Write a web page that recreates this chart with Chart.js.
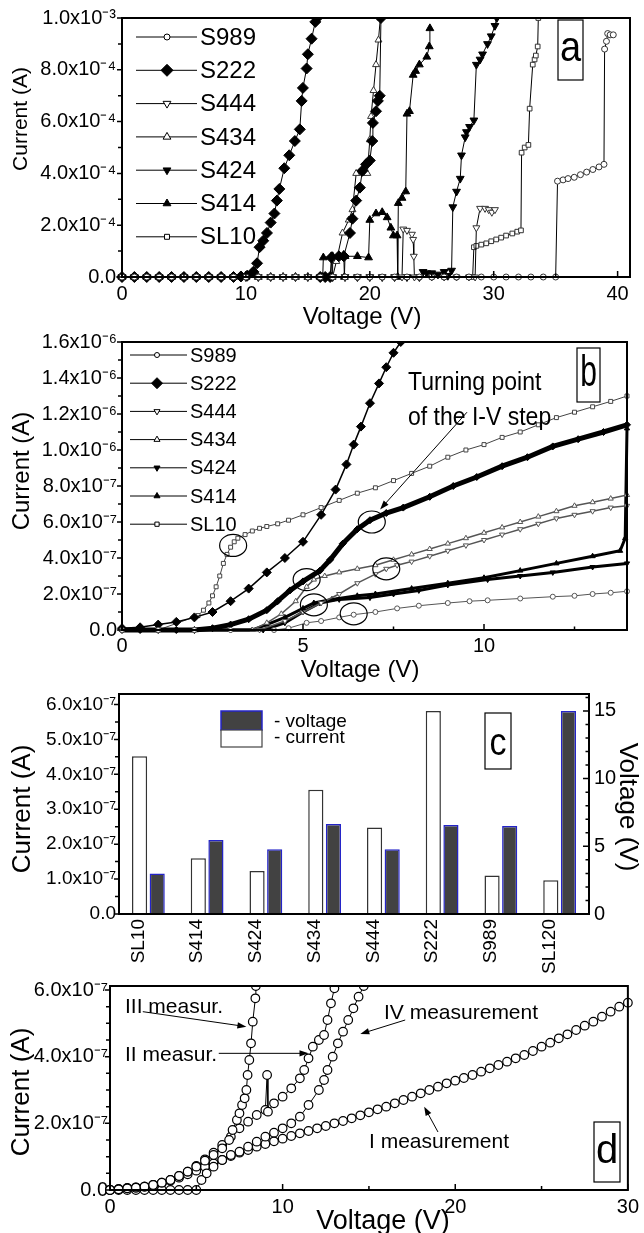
<!DOCTYPE html>
<html><head><meta charset="utf-8">
<script src="https://cdn.jsdelivr.net/npm/chart.js"></script>
<style>
html,body{margin:0;padding:0;background:#fff;}
#wrap{position:relative;width:644px;height:1233px;overflow:hidden;background:#fff}
canvas{position:absolute;left:0}
</style></head><body><div id="wrap">
<canvas id="cA" width="644" height="340" style="top:0px"></canvas>
<canvas id="cB" width="644" height="375" style="top:315px"></canvas>
<canvas id="cC" width="644" height="321" style="top:665px"></canvas>
<canvas id="cD" width="644" height="268" style="top:965px"></canvas>
</div>
<script>
const FONT = "'Liberation Sans', Arial, Helvetica, sans-serif";

// ================= Panel a (current in units of 1e-4 A) =================
const aXTicks = [0, 10, 20, 30, 40];
const aXTickLabels = ['0', '10', '20', '30', '40'];
const aXMinor = [5, 15, 25, 35];
const aYTicks = [0, 2, 4, 6, 8, 10];
const aYTickLabels = ['0.0', '2.0x10⁻⁴', '4.0x10⁻⁴', '6.0x10⁻⁴', '8.0x10⁻⁴', '1.0x10⁻³'];
const aYMinor = [1, 3, 5, 7, 9];
const aNames = ['S989', 'S222', 'S444', 'S434', 'S424', 'S414', 'SL10'];

const aS989V = [0,1,2,3,4,5,6,7,8,9,10,11,12,13,14,15,16,17,18,19,20,21,22,23,24,25,26,27,28,29,30,31,32,33,34,35,35.15,35.6,36.0,36.5,37.0,37.5,38.0,38.5,38.9,38.95,39.1,39.2,39.4,39.65];
const aS989I = [0,0,0,0,0,0,0,0,0,0,0,0,0,0,0,0,0,0,0,0,0,0,0,0,0,0,0,0,0,0,0,0,0,0,0,0,3.7,3.75,3.8,3.85,3.95,4.05,4.15,4.25,4.35,8.8,9.1,9.4,9.35,9.35];
const aS222V = [0,1,2,3,4,5,6,7,8,9,9.6,10.1,10.6,10.9,11.1,11.4,11.7,12.0,12.3,12.5,12.7,13.1,13.5,13.95,14.35,14.5,14.6,14.9,15.0,15.3,15.6,15.75];
const aS222I = [0,0,0,0,0,0,0,0,0,0,0.02,0.05,0.2,0.53,1.15,1.4,1.7,2.1,2.45,2.95,3.4,4.2,4.7,5.25,5.7,6.8,7.3,8.05,8.6,9.2,9.85,10.0];
const aS222bV = [16.0,16.4,16.8,16.9,17.5,17.9,18.4,18.6,18.9,19.2,19.4,19.7,20.0,20.2,20.25,20.5,20.65,20.8,20.9];
const aS222bI = [0,0,0,0.75,0.8,0.8,1.7,2.25,2.95,3.45,4.1,4.35,4.5,5.25,5.95,6.4,6.8,7.0,10.0];
const aS444V = [0,1,2,3,4,5,6,7,8,9,10,11,12,13,14,15,16,17,18,19,20,21,22,22.6,22.7,23.0,23.4,23.5,23.55,23.6,24,25,26,27,28,28.5,28.6,28.9,29.3,29.6,29.85,30.1];
const aS444I = [0,0,0,0,0,0,0,0,0,0,0,0,0,0,0,0,0,0,0,0,0,0,0,0,1.85,1.8,1.65,1.45,0.8,0,0,0,0,0,0,0,1.9,2.65,2.65,2.6,2.5,2.6];
const aS434V = [0,1,2,3,4,5,6,7,8,9,10,11,12,13,14,15,16,17,17.3,17.8,18.3,18.6,18.9,19.4,19.8,20.0,20.1,20.3,20.5,20.7,20.85];
const aS434I = [0,0,0,0,0,0,0,0,0,0,0,0,0,0,0,0,0,0,0.6,1.7,2.2,2.6,4.0,4.0,4.0,5.3,6.2,7.2,8.2,9.15,10.0];
const aS424V = [0,1,2,3,4,5,6,7,8,9,10,11,12,13,14,15,16,17,18,19,20,21,22,23,24,24.3,24.6,25.0,25.5,26.0,26.3,26.6,26.7,27.0,27.3,27.4,27.7,27.8,28.05,28.4,28.6,28.9,29.1,29.5,29.8,30.1,30.25];
const aS424I = [0,0,0,0,0,0,0,0,0,0,0,0,0,0,0,0,0,0,0,0,0,0,0,0,0,0.2,0.15,0.15,0.1,0.2,0.05,0.25,2.7,3.3,3.8,4.7,5.4,5.6,5.8,6.05,8.2,8.4,8.6,9.0,9.3,9.7,10.0];
const aS414V = [0,1,2,3,4,5,6,7,8,9,10,11,12,13,14,15,16,16.2,16.25,16.9,16.95,17.0,17.9,17.95,18.0,19.0,19.9,20.0,20.5,21.0,21.4,21.7,21.9,22.2,22.25,22.3,22.6,22.9,23.0,23.2,23.5,23.7,24.0,24.6,24.8,24.85];
const aS414I = [0,0,0,0,0,0,0,0,0,0,0,0,0,0,0,0,0,0,0.75,0.8,0,0.8,0.85,0,0.8,0.8,0.75,2.2,2.45,2.5,2.3,1.9,1.6,1.6,0,2.85,3.05,3.3,6.3,6.4,7.8,7.95,8.2,8.5,8.9,9.6];
const aSL10V = [0,1,2,3,4,5,6,7,8,9,10,11,12,13,14,15,16,17,18,19,20,21,22,23,24,25,26,27,28,28.3,28.4,28.6,29.0,29.4,29.8,30.2,30.6,31.0,31.5,31.9,32.2,32.25,32.5,32.8,32.9,33.15,33.3,33.4,33.55,33.6];
const aSL10I = [0,0,0,0,0,0,0,0,0,0,0,0,0,0,0,0,0,0,0,0,0,0,0,0,0,0,0,0,0,0,1.15,1.2,1.25,1.3,1.38,1.45,1.52,1.6,1.68,1.75,1.8,4.8,5.0,5.1,6.5,8.2,8.4,8.55,8.9,10.0];

// ================= Panel b (current in units of 1e-6 A) =================
const bXTicks = [0, 5, 10];
const bXTickLabels = ['0', '5', '10'];
const bXMinor = [2.5, 7.5, 12.5];
const bYTicks = [0, 0.2, 0.4, 0.6, 0.8, 1.0, 1.2, 1.4, 1.6];
const bYTickLabels = ['0.0','2.0x10⁻⁷','4.0x10⁻⁷','6.0x10⁻⁷','8.0x10⁻⁷','1.0x10⁻⁶','1.2x10⁻⁶','1.4x10⁻⁶','1.6x10⁻⁶'];
const bYMinor = [0.1, 0.3, 0.5, 0.7, 0.9, 1.1, 1.3, 1.5];

const bS989V = [0,1,2,3,4.2,4.6,5.1,5.5,6.0,6.4,7.0,7.6,8.2,9.0,9.6,10.1,11.0,11.9,12.5,13.0,13.5,13.95];
const bS989I = [0,0,0,0,0,0.01,0.04,0.05,0.07,0.085,0.1,0.12,0.135,0.15,0.16,0.165,0.175,0.185,0.19,0.2,0.207,0.215];
const bS222V = [0,0.5,1.0,1.5,2.0,2.5,3.0,3.5,4.0,4.5,5.0,5.5,5.9,6.2,6.4,6.6,6.85,7.1,7.3,7.5,7.7];
const bS222I = [0.01,0.015,0.03,0.045,0.07,0.1,0.16,0.23,0.32,0.4,0.49,0.64,0.78,0.92,1.03,1.13,1.26,1.37,1.46,1.54,1.6];
const bS222bV = [0,0.5,1,1.5,2,2.5,3,3.5,4,4.3,4.64,5,5.47,5.75,6.1,6.5,6.85,7.3,7.77,8.5,9.15,9.8,10.5,11.2,11.9,12.6,13.3,13.95];
const bS222bI = [0,0,0,0,0,0.01,0.03,0.06,0.11,0.16,0.22,0.27,0.33,0.39,0.48,0.56,0.61,0.65,0.68,0.74,0.80,0.85,0.91,0.96,1.02,1.06,1.10,1.14];
const bS444V = [0,1,2,3,3.8,4.5,5.0,5.5,6.0,6.5,7.0,7.3,7.6,8,8.5,9,9.5,10,10.5,11,11.5,12,12.5,13,13.5,13.95];
const bS444I = [0,0,0,0,0,0.05,0.1,0.15,0.2,0.26,0.31,0.34,0.36,0.38,0.41,0.44,0.47,0.50,0.53,0.56,0.59,0.62,0.64,0.66,0.68,0.69];
const bS434V = [0,1,2,3,3.6,4.0,4.4,4.8,5.1,5.3,5.6,6.0,6.5,7.0,7.5,8,8.5,9,9.5,10,10.5,11,11.5,12,12.5,13,13.5,13.95];
const bS434I = [0,0,0,0,0,0.04,0.09,0.16,0.24,0.28,0.30,0.32,0.34,0.36,0.39,0.42,0.45,0.48,0.51,0.54,0.57,0.60,0.63,0.66,0.69,0.71,0.73,0.75];
const bS424V = [0,1,2,3,3.9,4.5,5.0,5.47,6,6.85,7.5,8.2,9,10.1,11,11.9,13,13.95];
const bS424I = [0,0,0,0,0,0.04,0.1,0.15,0.17,0.18,0.2,0.22,0.25,0.28,0.3,0.32,0.35,0.37];
const bS414V = [0,1,2,3,3.6,4.0,4.5,5.0,5.3,5.8,6.5,7,8,9,10,11,12,13,13.76,13.9,13.95];
const bS414I = [0,0,0,0,0,0.03,0.07,0.12,0.15,0.17,0.19,0.2,0.23,0.26,0.29,0.33,0.37,0.41,0.44,0.51,1.12];
const bSL10V = [0,1,2.1,2.25,2.4,2.5,2.6,2.7,2.8,2.9,3.0,3.1,3.2,3.4,3.6,3.8,4.0,4.3,4.6,5.0,5.5,6.0,6.5,7.0,7.5,8.0,8.5,9.0,9.5,10,10.5,11,11.5,12,12.5,13,13.5,13.95];
const bSL10I = [0,0,0.08,0.11,0.15,0.19,0.24,0.3,0.37,0.42,0.46,0.49,0.51,0.53,0.55,0.565,0.575,0.59,0.61,0.64,0.68,0.72,0.76,0.79,0.83,0.87,0.91,0.96,1.0,1.03,1.07,1.1,1.14,1.18,1.21,1.24,1.27,1.30];
// turning-point circles (V, I 1e-6 A)
const bCircleV = [3.07, 5.1, 5.3, 6.9, 7.3, 6.4];
const bCircleI = [0.47, 0.28, 0.14, 0.60, 0.34, 0.09];
const bArrowFrom = [9.53, 1.21], bArrowTo = [7.13, 0.67];

// ================= Panel c =================
const cCategories = ['SL10', 'S414', 'S424', 'S434', 'S444', 'S222', 'S989', 'SL120'];
const cCurrent = [4.52, 1.6, 1.23, 3.56, 2.48, 5.81, 1.10, 0.97];   // units 1e-7 A
const cVoltage = [3.0, 5.47, 4.78, 6.65, 4.78, 6.58, 6.5, 15.0];   // V
const cYTicks = [0, 1, 2, 3, 4, 5, 6];
const cYTickLabels = ['0.0','1.0x10⁻⁷','2.0x10⁻⁷','3.0x10⁻⁷','4.0x10⁻⁷','5.0x10⁻⁷','6.0x10⁻⁷'];
const cYMinor = [0.5, 1.5, 2.5, 3.5, 4.5, 5.5];
const cY1Ticks = [0, 5, 10, 15];
const cY1TickLabels = ['0', '5', '10', '15'];
const cY1Minor = [1,2,3,4,6,7,8,9,11,12,13,14,16];

// ================= Panel d (current in units of 1e-7 A) =================
const dXTicks = [0, 10, 20, 30];
const dXTickLabels = ['0', '10', '20', '30'];
const dXMinor = [5, 15, 25];
const dYTicks = [0, 2, 4, 6];
const dYTickLabels = ['0.0', '2.0x10⁻⁷', '4.0x10⁻⁷', '6.0x10⁻⁷'];
const dYMinor = [0.5, 1, 1.5, 2.5, 3, 3.5, 4.5, 5, 5.5];

const dIV = [0,0.5,1,1.5,2,2.5,3,3.5,4,4.5,5,5.5,6,6.5,7,7.5,8,8.5,9,9.5,10,10.5,11,11.5,12,12.5,13,13.5,14,14.5,15,15.5,16,16.5,17,17.5,18,18.5,19,19.5,20,20.5,21,21.5,22,22.5,23,23.5,24,24.5,25,25.5,26,26.5,27,27.5,28,28.5,29,29.5,30];
const dII = [0,0.03,0.06,0.08,0.1,0.15,0.2,0.28,0.37,0.47,0.58,0.7,0.8,0.9,1.02,1.12,1.2,1.3,1.38,1.46,1.54,1.62,1.7,1.77,1.85,1.92,2.0,2.07,2.15,2.24,2.33,2.42,2.5,2.6,2.7,2.8,2.9,3.0,3.1,3.2,3.28,3.36,3.45,3.55,3.65,3.75,3.85,3.95,4.05,4.17,4.3,4.42,4.55,4.67,4.8,4.93,5.05,5.2,5.35,5.5,5.62];
const dIIV = [0,0.5,1,1.5,2,2.5,3,3.5,4,4.5,5,5.5,6,6.5,7,7.5,8,8.5,9,9.1,9.15,9.5,10,10.5,11,11.25,11.5,11.75,12.1,12.4,12.6,12.8,13.0];
const dIII = [0,0.02,0.05,0.07,0.1,0.15,0.22,0.3,0.42,0.55,0.72,0.92,1.12,1.35,1.6,1.85,2.05,2.25,2.4,3.45,2.35,2.6,2.8,3.05,3.35,3.6,3.95,4.3,4.5,4.65,5.1,5.6,6.05];
const dIIIV = [0,0.5,1,1.5,2,2.5,3,3.5,4,4.5,5,5.5,6,6.5,6.9,7.1,7.35,7.5,7.65,7.8,7.9,7.97,8.07,8.17,8.27,8.42,8.45];
const dIIII = [0,0.02,0.05,0.07,0.1,0.15,0.22,0.3,0.42,0.55,0.7,0.88,1.05,1.25,1.5,1.8,2.1,2.3,2.55,2.75,3.0,3.45,3.9,4.4,5.05,5.75,6.12];
const dIVV = [0,0.5,1,1.5,2,2.5,3,3.5,4,4.5,5,5.3,5.6,6.0,6.5,7.0,7.5,8.0,8.5,9.0,9.5,10.0,10.5,11.0,11.5,12.1,12.4,12.6,12.9,13.2,13.5,13.8,14.1,14.4,14.7];
const dIVI = [0,0,0,0,0,0,0,0,0,0,0,0.3,0.5,0.7,0.9,1.05,1.15,1.3,1.45,1.6,1.72,1.85,2.0,2.2,2.55,3.0,3.3,3.6,4.0,4.4,4.75,5.1,5.45,5.8,6.12];
// annotation arrows (V, I 1e-7 A)
const dArrows = [
  [[1.9, 5.35], [7.9, 4.9]],
  [[6.3, 4.1], [11.5, 4.1]],
  [[17.1, 5.1], [14.5, 4.68]],
  [[19.0, 1.74], [18.2, 2.5]]
];

// ================= helpers =================
const STY = {
  S989: { ps: 'circle', fill: '#fff', rot: 0 },
  S222: { ps: 'rectRot', fill: '#000', rot: 0 },
  S444: { ps: 'triangle', fill: '#fff', rot: 180 },
  S434: { ps: 'triangle', fill: '#fff', rot: 0 },
  S424: { ps: 'triangle', fill: '#000', rot: 180 },
  S414: { ps: 'triangle', fill: '#000', rot: 0 },
  SL10: { ps: 'rect', fill: '#fff', rot: 0 }
};
const mk = (xs, ys) => xs.map((x, i) => ({ x: x, y: ys[i] }));
function series(label, xs, ys, st, o) {
  return {
    label: label, data: mk(xs, ys), showLine: true,
    borderColor: o.lc || '#000', borderWidth: o.lw || 1,
    pointStyle: st.ps, pointRotation: st.rot || 0,
    pointRadius: o.r, pointHoverRadius: o.r,
    pointBackgroundColor: st.fill, pointBorderColor: o.pc || '#000', pointBorderWidth: o.pbw || 1,
    clip: { left: 6, right: 6, top: 1, bottom: 6 }
  };
}
function xScale(min, max, ticks, labels, h, pad, size) {
  return {
    type: 'linear', position: 'bottom', min: min, max: max,
    afterBuildTicks: s => { s.ticks = ticks.map(v => ({ value: v })); },
    afterFit: s => { s.height = h; },
    grid: { display: false, drawTicks: false },
    border: { display: true, color: '#000', width: 2 },
    ticks: { color: '#000', font: { family: FONT, size: size }, padding: pad, autoSkip: false,
      maxRotation: 0, minRotation: 0, callback: (v, i) => labels[i] }
  };
}
function yScale(min, max, ticks, labels, w, pad, size, pos) {
  return {
    type: 'linear', position: pos || 'left', min: min, max: max,
    afterBuildTicks: s => { s.ticks = ticks.map(v => ({ value: v })); },
    afterFit: s => { s.width = w; },
    grid: { display: false, drawTicks: false },
    border: { display: true, color: '#000', width: 2 },
    ticks: { color: '#000', font: { family: FONT, size: size }, padding: pad, autoSkip: false,
      callback: (v, i) => labels[i] }
  };
}
function T(ctx, s, x, y, size, o) {
  o = o || {};
  ctx.save();
  ctx.font = size + 'px ' + FONT;
  ctx.fillStyle = '#000';
  ctx.textAlign = o.align || 'center';
  ctx.textBaseline = 'middle';
  ctx.translate(x, y);
  if (o.rot) ctx.rotate(o.rot * Math.PI / 180);
  ctx.scale(o.sx || 1, o.sy || 1);
  ctx.fillText(s, 0, 0);
  ctx.restore();
}
function ARROW(ctx, x1, y1, x2, y2) {
  const a = Math.atan2(y2 - y1, x2 - x1), L = 9, W = 3.2;
  ctx.save(); ctx.strokeStyle = '#000'; ctx.fillStyle = '#000'; ctx.lineWidth = 1;
  ctx.beginPath(); ctx.moveTo(x1, y1); ctx.lineTo(x2 - 6 * Math.cos(a), y2 - 6 * Math.sin(a)); ctx.stroke();
  ctx.beginPath(); ctx.moveTo(x2, y2);
  ctx.lineTo(x2 - L * Math.cos(a) + W * Math.sin(a), y2 - L * Math.sin(a) - W * Math.cos(a));
  ctx.lineTo(x2 - L * Math.cos(a) - W * Math.sin(a), y2 - L * Math.sin(a) + W * Math.cos(a));
  ctx.closePath(); ctx.fill(); ctx.restore();
}
function TICKS(chart, id, vals, len) {
  const s = chart.scales[id], a = chart.chartArea, ctx = chart.ctx;
  ctx.save(); ctx.strokeStyle = '#000'; ctx.lineWidth = 1.5; ctx.beginPath();
  vals.forEach(v => {
    const p = s.getPixelForValue(v);
    if (s.axis === 'x') { ctx.moveTo(p, a.bottom); ctx.lineTo(p, a.bottom + len); }
    else if (s.position === 'left') { ctx.moveTo(a.left, p); ctx.lineTo(a.left - len, p); }
    else { ctx.moveTo(a.right, p); ctx.lineTo(a.right + len, p); }
  });
  ctx.stroke(); ctx.restore();
}
function FRAME(chart) {
  const a = chart.chartArea, ctx = chart.ctx;
  ctx.save(); ctx.strokeStyle = '#000'; ctx.lineWidth = 2;
  ctx.strokeRect(a.left, a.top, a.right - a.left, a.bottom - a.top); ctx.restore();
}
function BOX(ctx, x1, y1, x2, y2) {
  ctx.save(); ctx.fillStyle = '#fff'; ctx.fillRect(x1, y1, x2 - x1, y2 - y1);
  ctx.strokeStyle = '#000'; ctx.lineWidth = 1.2; ctx.strokeRect(x1, y1, x2 - x1, y2 - y1); ctx.restore();
}
function LEG(ctx, names, y0, dy, x1, x2, xm, xt, size, radii, pc) {
  names.forEach((n, i) => {
    const y = y0 + dy * i, st = STY[n];
    ctx.save(); ctx.strokeStyle = '#000'; ctx.lineWidth = 1;
    ctx.beginPath(); ctx.moveTo(x1, y); ctx.lineTo(x2, y); ctx.stroke();
    ctx.fillStyle = st.fill; ctx.strokeStyle = pc;
    Chart.helpers.drawPoint(ctx, { pointStyle: st.ps, rotation: st.rot, radius: radii[i], borderWidth: 1 }, xm, y);
    ctx.restore();
    T(ctx, n, xt, y + 1, size, { align: 'left' });
  });
}
const common = { responsive: false, animation: false, devicePixelRatio: 1, events: [],
  plugins: { legend: { display: false }, tooltip: { enabled: false } } };

// ================= Chart a =================
const TOPA = 0;
new Chart(document.getElementById('cA'), {
  type: 'scatter',
  data: { datasets: [
    series('S989', aS989V, aS989I, STY.S989, { r: 3, pc: '#333' }),
    series('S222', aS222V, aS222I, STY.S222, { r: 5.5 }),
    series('S222 (repeat)', aS222bV, aS222bI, STY.S222, { r: 5.5 }),
    series('S444', aS444V, aS444I, STY.S444, { r: 4, pc: '#333' }),
    series('S434', aS434V, aS434I, STY.S434, { r: 4, pc: '#333' }),
    series('S424', aS424V, aS424I, STY.S424, { r: 4.5 }),
    series('S414', aS414V, aS414I, STY.S414, { r: 4.5 }),
    series('SL10', aSL10V, aSL10I, STY.SL10, { r: 3.3, pc: '#333' })
  ] },
  options: Object.assign({}, common, {
    layout: { padding: { left: 0, top: 16, right: 14, bottom: 0 } },
    scales: {
      x: xScale(0, 41, aXTicks, aXTickLabels, 63, 5, 20),
      y: yScale(0, 10, aYTicks, aYTickLabels, 122, 6, 20)
    }
  }),
  plugins: [{
    id: 'decoA',
    afterDatasetsDraw(chart) {
      FRAME(chart);
      TICKS(chart, 'x', aXTicks, -6); TICKS(chart, 'x', aXMinor, -3.5);
      TICKS(chart, 'y', aYTicks, 5); TICKS(chart, 'y', aYMinor, 4);
    },
    afterDraw(chart) {
      const c = chart.ctx; c.save(); c.translate(0, -TOPA);
      LEG(c, aNames, 37, 33.3, 136, 197, 167, 200, 24, [3, 6, 4.5, 4.5, 4.5, 4.5, 3.5], '#000');
      BOX(c, 558, 20, 583, 80);
      T(c, 'a', 570.5, 49, 38, { sy: 1.12 });
      T(c, 'Voltage (V)', 362, 317, 24);
      T(c, 'Current (A)', 21, 119, 21, { rot: -90 });
      c.restore();
    }
  }]
});

// ================= Chart b =================
const TOPB = 315;
new Chart(document.getElementById('cB'), {
  type: 'scatter',
  data: { datasets: [
    series('S989', bS989V, bS989I, STY.S989, { r: 2.5, pc: '#555', lc: '#555' }),
    series('S222', bS222V, bS222I, STY.S222, { r: 4.5, lw: 1.5 }),
    series('S222 (repeat)', bS222bV, bS222bI, STY.S222, { r: 3.5, lw: 5 }),
    series('S444', bS444V, bS444I, STY.S444, { r: 3, pc: '#555', lc: '#555', lw: 1.5 }),
    series('S434', bS434V, bS434I, STY.S434, { r: 3, pc: '#555', lc: '#555', lw: 1.5 }),
    series('S424', bS424V, bS424I, STY.S424, { r: 3, lw: 3 }),
    series('S414', bS414V, bS414I, STY.S414, { r: 3, lw: 3 }),
    series('SL10', bSL10V, bSL10I, STY.SL10, { r: 2.8, pc: '#444', lc: '#444' })
  ] },
  options: Object.assign({}, common, {
    layout: { padding: { left: 0, top: 27, right: 17, bottom: 0 } },
    scales: {
      x: xScale(0, 13.95, bXTicks, bXTickLabels, 60, 4, 20),
      y: yScale(0, 1.6, bYTicks, bYTickLabels, 122, 5, 20)
    }
  }),
  plugins: [{
    id: 'decoB',
    afterDatasetsDraw(chart) {
      const c = chart.ctx, xs = chart.scales.x, ys = chart.scales.y, a = chart.chartArea;
      c.save(); c.beginPath(); c.rect(a.left, a.top, a.right - a.left, a.bottom - a.top); c.clip();
      c.strokeStyle = '#000'; c.lineWidth = 1.2;
      bCircleV.forEach((v, i) => {
        c.beginPath(); c.ellipse(xs.getPixelForValue(v), ys.getPixelForValue(bCircleI[i]), 13.5, 11, 0, 0, Math.PI * 2); c.stroke();
      });
      c.restore();
      ARROW(c, xs.getPixelForValue(bArrowFrom[0]), ys.getPixelForValue(bArrowFrom[1]),
        xs.getPixelForValue(bArrowTo[0]), ys.getPixelForValue(bArrowTo[1]));
      FRAME(chart);
      TICKS(chart, 'x', bXTicks, -6); TICKS(chart, 'x', bXMinor, -3.5);
      TICKS(chart, 'y', bYTicks, 5); TICKS(chart, 'y', bYMinor, 4);
    },
    afterDraw(chart) {
      const c = chart.ctx; c.save(); c.translate(0, -TOPB);
      LEG(c, aNames, 355, 28.2, 130, 187, 157, 190, 20, [2.5, 5.5, 3.5, 3.5, 3.5, 3.5, 3], '#000');
      BOX(c, 577, 348, 600, 402);
      T(c, 'b', 588.5, 374, 30, { sy: 1.45 });
      T(c, 'Turning point', 408, 383, 23, { align: 'left', sy: 1.15 });
      T(c, 'of the I-V step', 408, 418, 23, { align: 'left', sy: 1.15 });
      T(c, 'Voltage (V)', 360, 670, 24);
      T(c, 'Current (A)', 22, 471, 24, { rot: -90 });
      c.restore();
    }
  }]
});

// ================= Chart c =================
const TOPC = 665;
new Chart(document.getElementById('cC'), {
  type: 'bar',
  data: { labels: cCategories, datasets: [
    { label: 'current', data: cCurrent, yAxisID: 'y', backgroundColor: '#ffffff', borderColor: '#333333', borderWidth: 1.5,
      categoryPercentage: 0.6, barPercentage: 0.86 },
    { label: 'voltage', data: cVoltage, yAxisID: 'y1', backgroundColor: '#424242', borderColor: '#2424c8', borderWidth: 1.5,
      categoryPercentage: 0.6, barPercentage: 0.86 }
  ] },
  options: Object.assign({}, common, {
    layout: { padding: { left: 0, top: 29, right: 0, bottom: 0 } },
    scales: {
      x: { type: 'category', position: 'bottom', offset: true,
        afterFit: s => { s.height = 72; },
        grid: { display: false, drawTicks: false },
        border: { display: true, color: '#000', width: 2 },
        ticks: { color: '#000', font: { family: FONT, size: 19 }, padding: 5, autoSkip: false,
          minRotation: 90, maxRotation: 90, labelOffset: -10 } },
      y: yScale(0, 6.3, cYTicks, cYTickLabels, 119, 3, 19),
      y1: yScale(0, 16.25, cY1Ticks, cY1TickLabels, 55, 5, 20, 'right')
    }
  }),
  plugins: [{
    id: 'decoC',
    afterDatasetsDraw(chart) {
      FRAME(chart);
      TICKS(chart, 'y', cYTicks, 5); TICKS(chart, 'y', cYMinor, 4);
      TICKS(chart, 'y1', cY1Ticks, -6); TICKS(chart, 'y1', cY1Minor, -3.5);
    },
    afterDraw(chart) {
      const c = chart.ctx; c.save(); c.translate(0, -TOPC);
      c.fillStyle = '#424242'; c.fillRect(221, 711, 41, 19);
      c.strokeStyle = '#2424c8'; c.lineWidth = 1.5; c.strokeRect(221, 711, 41, 19);
      c.fillStyle = '#fff'; c.fillRect(221, 730, 41, 17);
      c.strokeStyle = '#444'; c.lineWidth = 1.2; c.strokeRect(221, 730, 41, 17);
      T(c, '- voltage', 274, 722, 19, { align: 'left' });
      T(c, '- current', 274, 738, 19, { align: 'left' });
      BOX(c, 485, 713, 511, 769);
      T(c, 'c', 498, 744, 34, { sy: 1.15 });
      T(c, 'Current (A)', 23, 809, 26, { rot: -90 });
      T(c, 'Voltage (V)', 627, 807, 26, { rot: 90 });
      c.restore();
    }
  }]
});

// ================= Chart d =================
const TOPD = 965;
const dOpt = { r: 4.3, pbw: 1.2 };
new Chart(document.getElementById('cD'), {
  type: 'scatter',
  data: { datasets: [
    series('III measur.', dIIIV, dIIII, STY.S989, dOpt),
    series('II measur.', dIIV, dIII, STY.S989, dOpt),
    series('IV measurement', dIVV, dIVI, STY.S989, dOpt),
    series('I measurement', dIV, dII, STY.S989, dOpt)
  ] },
  options: Object.assign({}, common, {
    layout: { padding: { left: 0, top: 21, right: 14, bottom: 0 } },
    scales: {
      x: xScale(0, 30, dXTicks, dXTickLabels, 43, 5, 20),
      y: yScale(0, 6.12, dYTicks, dYTickLabels, 110, 2, 20)
    }
  }),
  plugins: [{
    id: 'decoD',
    afterDatasetsDraw(chart) {
      const c = chart.ctx, xs = chart.scales.x, ys = chart.scales.y;
      dArrows.forEach(ar => ARROW(c, xs.getPixelForValue(ar[0][0]), ys.getPixelForValue(ar[0][1]),
        xs.getPixelForValue(ar[1][0]), ys.getPixelForValue(ar[1][1])));
      FRAME(chart);
      TICKS(chart, 'x', dXTicks, -6); TICKS(chart, 'x', dXMinor, -4);
      TICKS(chart, 'y', dYTicks, 5); TICKS(chart, 'y', dYMinor, 4);
    },
    afterDraw(chart) {
      const c = chart.ctx; c.save(); c.translate(0, -TOPD);
      T(c, 'III measur.', 125, 1007, 21, { align: 'left' });
      T(c, 'II measur.', 125, 1055, 21, { align: 'left' });
      T(c, 'IV measurement', 384, 1013, 21, { align: 'left' });
      T(c, 'I measurement', 369, 1142, 21, { align: 'left' });
      BOX(c, 594, 1122, 620, 1182);
      T(c, 'd', 607, 1152, 40);
      T(c, 'Voltage (V)', 383, 1222, 27);
      T(c, 'Current (A)', 22, 1092, 26, { rot: -90 });
      c.restore();
    }
  }]
});
</script></body></html>
